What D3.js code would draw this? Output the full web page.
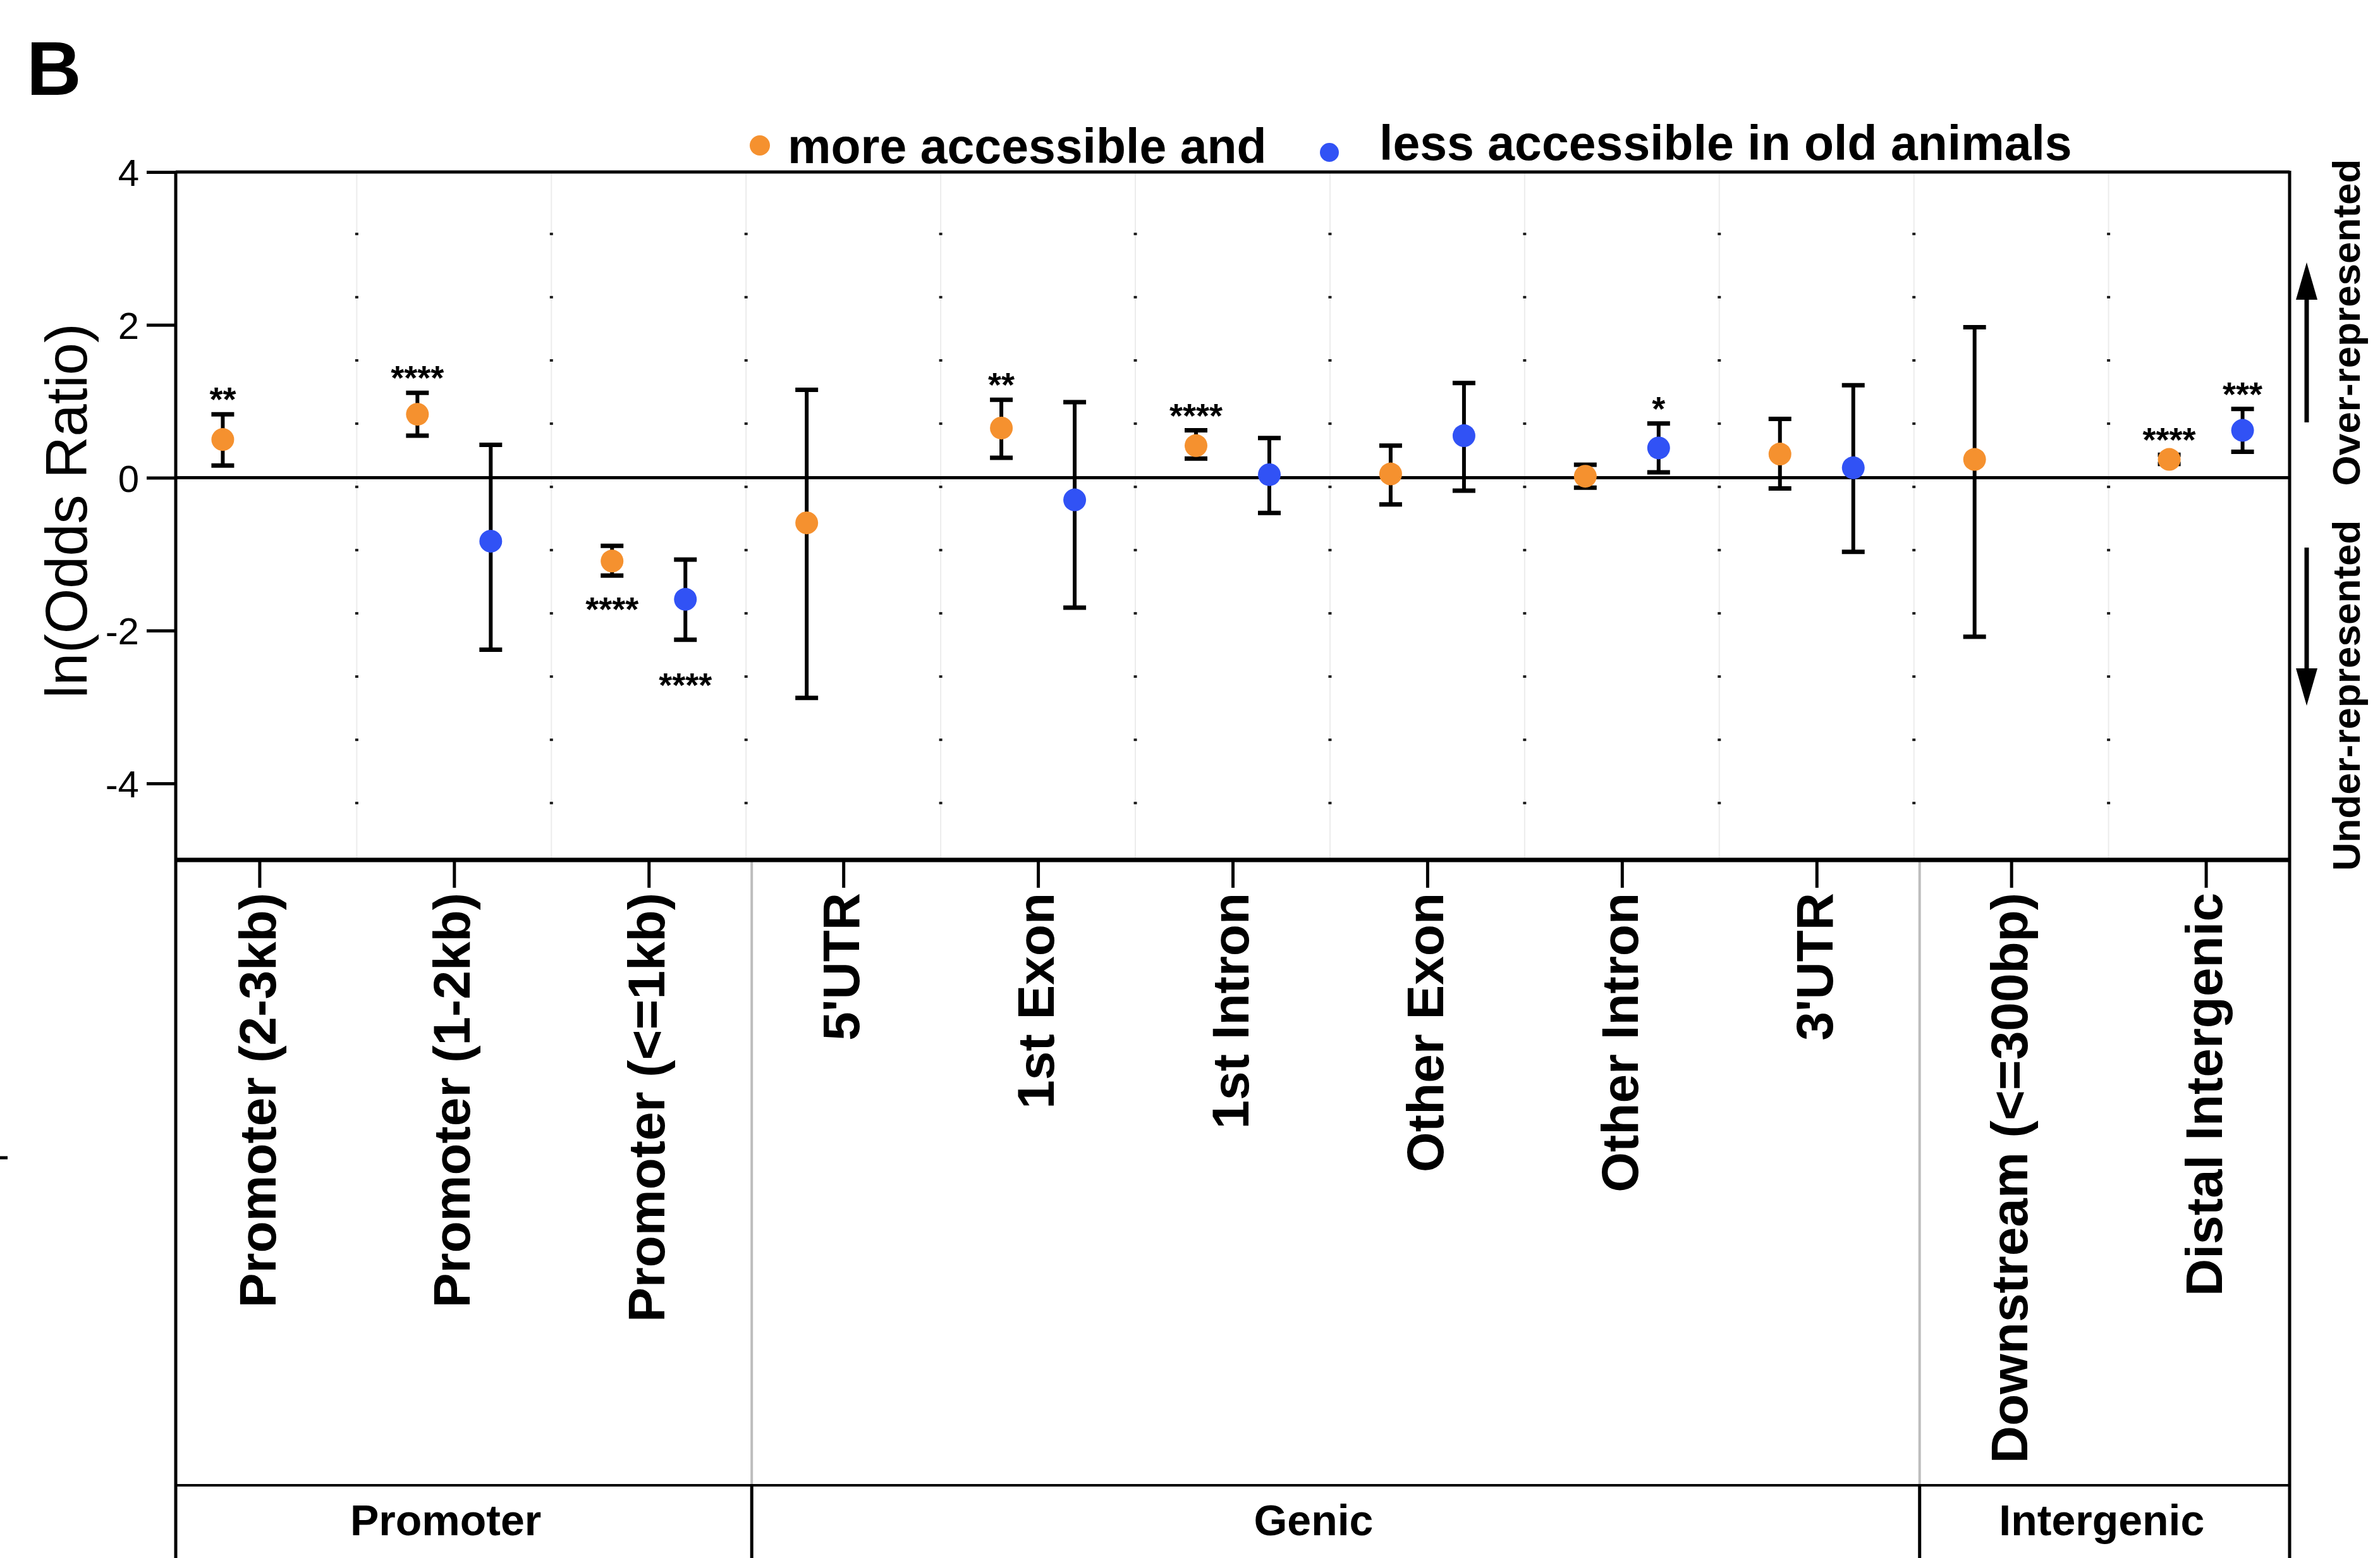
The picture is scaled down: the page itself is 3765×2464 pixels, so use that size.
<!DOCTYPE html>
<html>
<head>
<meta charset="utf-8">
<script src="https://cdn.jsdelivr.net/npm/d3@7"></script>
<style>
body { margin: 0; background: #fff; }
text { font-family: "Liberation Sans", Arial, Helvetica, sans-serif; }
</style>
</head>
<body>
<script>
const categories = ["Promoter (2-3kb)", "Promoter (1-2kb)", "Promoter (<=1kb)", "5'UTR", "1st Exon", "1st Intron",
    "Other Exon", "Other Intron", "3'UTR", "Downstream (<=300bp)", "Distal Intergenic"];

// orange: more accessible in old animals
const moreOR = [0.50, 0.83, -1.09, -0.59, 0.65, 0.42, 0.05, 0.02, 0.31, 0.24, 0.24];
const moreLow = [0.16, 0.55, -1.28, -2.88, 0.26, 0.25, -0.35, -0.13, -0.14, -2.08, 0.18];
const moreHigh = [0.83, 1.11, -0.89, 1.15, 1.02, 0.62, 0.42, 0.17, 0.77, 1.97, 0.30];
const moreStars = ["**", "****", "****", "", "**", "****", "", "", "", "", "****"];

// blue: less accessible in old animals
const lessOR = [null, -0.83, -1.59, null, -0.29, 0.04, 0.55, 0.39, 0.13, null, 0.62];
const lessLow = [null, -2.25, -2.12, null, -1.70, -0.46, -0.17, 0.07, -0.97, null, 0.34];
const lessHigh = [null, 0.43, -1.07, null, 0.99, 0.52, 1.24, 0.71, 1.21, null, 0.90];
const lessStars = ["", "", "****", "", "", "", "", "*", "", "", "***"];

const yTicks = [4, 2, 0, -2, -4];
const groups = [
    {name: "Promoter", from: 0, to: 2},
    {name: "Genic", from: 3, to: 8},
    {name: "Intergenic", from: 9, to: 10}
];

const W = 3765, H = 2464;
const plotLeft = 278, plotRight = 3622, plotTop = 272, plotBottom = 1360;
const groupTop = 2349;
const orange = "#F5912F";
const blue = "#3152F5";
const groupLabelDx = [-24, -26, 0];

const svg = d3.select("body").append("svg")
.attr("width", W)
.attr("height", H);

const x = d3.scalePoint()
.domain(categories)
.range([plotLeft, plotRight])
.padding(0.43);

const y = d3.scaleLinear()
.domain([-5, 4])
.range([plotBottom, plotTop]);

const step = x.step();
const mid = i => x(categories[i]) + step / 2;

// faint grid lines between categories, with small dots
for (let i = 0; i < categories.length - 1; i++) {
    svg.append("line")
    .attr("x1", mid(i)).attr("x2", mid(i))
    .attr("y1", plotTop).attr("y2", plotBottom)
    .attr("stroke", "#ececec")
    .attr("stroke-width", 2);
    svg.append("line")
    .attr("x1", mid(i)).attr("x2", mid(i))
    .attr("y1", plotTop).attr("y2", plotBottom)
    .attr("stroke", "#222")
    .attr("stroke-width", 5)
    .attr("stroke-dasharray", "4,96")
    .attr("stroke-dashoffset", 4);
}

// gray separators between groups in the label area, black in group row
groups.slice(0, -1).forEach(g => {
    const sx = mid(g.to) + 9;
    svg.append("line")
    .attr("x1", sx).attr("x2", sx)
    .attr("y1", plotBottom).attr("y2", groupTop)
    .attr("stroke", "#bdbdbd")
    .attr("stroke-width", 4);
    svg.append("line")
    .attr("x1", sx).attr("x2", sx)
    .attr("y1", groupTop).attr("y2", H)
    .attr("stroke", "#000")
    .attr("stroke-width", 5);
});

// frame
svg.append("line")
.attr("x1", plotLeft).attr("x2", plotRight)
.attr("y1", plotTop).attr("y2", plotTop)
.attr("stroke", "#000").attr("stroke-width", 5);
svg.append("line")
.attr("x1", plotRight).attr("x2", plotRight)
.attr("y1", plotTop - 2).attr("y2", H)
.attr("stroke", "#000").attr("stroke-width", 5);
svg.append("line")
.attr("x1", plotLeft).attr("x2", plotLeft)
.attr("y1", plotTop - 2).attr("y2", H)
.attr("stroke", "#000").attr("stroke-width", 5);
svg.append("line")
.attr("x1", plotLeft).attr("x2", plotRight)
.attr("y1", y(0)).attr("y2", y(0))
.attr("stroke", "#000").attr("stroke-width", 5);
svg.append("line")
.attr("x1", plotLeft).attr("x2", plotRight)
.attr("y1", groupTop).attr("y2", groupTop)
.attr("stroke", "#000").attr("stroke-width", 4);

// y axis
const yAxis = svg.append("g")
.attr("transform", "translate(" + plotLeft + ",0)")
.call(d3.axisLeft(y).tickValues(yTicks).tickSize(46).tickPadding(12).tickFormat(d => String(d)));
yAxis.select(".domain").remove();
yAxis.selectAll(".tick line").attr("stroke", "#000").attr("stroke-width", 5);
yAxis.selectAll(".tick text")
.attr("fill", "#000")
.style("font-size", "60px")
.attr("dy", "0.36em");

// x axis with rotated labels
const xAxis = svg.append("g")
.attr("transform", "translate(0," + plotBottom + ")")
.call(d3.axisBottom(x).tickSize(44).tickPadding(8));
xAxis.select(".domain")
.attr("d", "M" + plotLeft + ",0H" + plotRight)
.attr("stroke", "#000")
.attr("stroke-width", 7);
xAxis.selectAll(".tick line").attr("stroke", "#000").attr("stroke-width", 5);
xAxis.selectAll(".tick text")
.attr("fill", "#000")
.attr("transform", "rotate(-90)")
.attr("text-anchor", "end")
.attr("x", -52)
.attr("y", 0)
.attr("dy", "0.3em")
.style("font-size", "82px")
.style("font-weight", "bold");

// group labels
svg.selectAll(".group-label")
.data(groups)
.enter()
.append("text")
.attr("x", (g, i) => ((g.from === 0 ? plotLeft : mid(g.from - 1)) + (g.to === categories.length - 1 ? plotRight : mid(g.to))) / 2 + groupLabelDx[i])
.attr("y", 2428)
.attr("text-anchor", "middle")
.style("font-size", "68px")
.style("font-weight", "bold")
.text(g => g.name);

// error bars + points
const offset = 58;
const cap = 18;
const series = [
    {or: moreOR, lo: moreLow, hi: moreHigh, stars: moreStars, color: orange, dx: -offset, below: 42},
    {or: lessOR, lo: lessLow, hi: lessHigh, stars: lessStars, color: blue, dx: offset, below: 60}
];

series.forEach(s => {
    const pts = categories.map((c, i) => ({c: c, v: s.or[i], lo: s.lo[i], hi: s.hi[i], star: s.stars[i]}))
    .filter(d => d.v !== null);
    const cx = d => x(d.c) + s.dx;

    svg.selectAll(null)
    .data(pts)
    .enter()
    .append("line")
    .attr("x1", cx).attr("x2", cx)
    .attr("y1", d => y(d.hi)).attr("y2", d => y(d.lo))
    .attr("stroke", "#000").attr("stroke-width", 6);

    ["hi", "lo"].forEach(k => {
        svg.selectAll(null)
        .data(pts)
        .enter()
        .append("line")
        .attr("x1", d => cx(d) - cap).attr("x2", d => cx(d) + cap)
        .attr("y1", d => y(d[k])).attr("y2", d => y(d[k]))
        .attr("stroke", "#000").attr("stroke-width", 7);
    });

    svg.selectAll(null)
    .data(pts)
    .enter()
    .append("circle")
    .attr("cx", cx)
    .attr("cy", d => y(d.v))
    .attr("r", 18)
    .attr("fill", s.color);

    // star centre sits ~35px above the bar top (or below the bar bottom); baseline is ~30px under the centre
    svg.selectAll(null)
    .data(pts.filter(d => d.star))
    .enter()
    .append("text")
    .attr("x", cx)
    .attr("y", d => d.v >= 0 ? y(d.hi) - 35 + 30 : y(d.lo) + s.below + 30)
    .attr("text-anchor", "middle")
    .style("font-size", "54px")
    .style("font-weight", "bold")
    .text(d => d.star);
});

// legend
svg.append("circle").attr("cx", 1202).attr("cy", 230).attr("r", 16).attr("fill", orange);
svg.append("text")
.attr("x", 1246).attr("y", 258)
.style("font-size", "77px").style("font-weight", "bold")
.text("more accessible and");
svg.append("circle").attr("cx", 2103).attr("cy", 241).attr("r", 15).attr("fill", blue);
svg.append("text")
.attr("x", 2182).attr("y", 253)
.style("font-size", "77px").style("font-weight", "bold")
.text("less accessible in old animals");

// y label
svg.append("text")
.attr("transform", "translate(137,808) rotate(-90)")
.attr("text-anchor", "middle")
.style("font-size", "92px")
.text("ln(Odds Ratio)");

// panel letter
svg.append("text")
.attr("x", 42).attr("y", 150)
.style("font-size", "120px").style("font-weight", "bold")
.text("B");

// right side annotations and arrows
svg.append("text")
.attr("transform", "translate(3733,510) rotate(-90)")
.attr("text-anchor", "middle")
.style("font-size", "62px").style("font-weight", "bold")
.text("Over-represented");
svg.append("text")
.attr("transform", "translate(3733,1100) rotate(-90)")
.attr("text-anchor", "middle")
.style("font-size", "62px").style("font-weight", "bold")
.text("Under-represented");

const ax = 3649;
svg.append("line").attr("x1", ax).attr("x2", ax).attr("y1", 668).attr("y2", 470)
.attr("stroke", "#000").attr("stroke-width", 7);
svg.append("path").attr("d", `M${ax},415L${ax - 17},474L${ax + 17},474Z`).attr("fill", "#000");
svg.append("line").attr("x1", ax).attr("x2", ax).attr("y1", 866).attr("y2", 1060)
.attr("stroke", "#000").attr("stroke-width", 7);
svg.append("path").attr("d", `M${ax},1116L${ax - 17},1057L${ax + 17},1057Z`).attr("fill", "#000");

// small stray mark on the left edge
svg.append("line").attr("x1", 0).attr("x2", 12).attr("y1", 1831).attr("y2", 1831)
.attr("stroke", "#000").attr("stroke-width", 5);
</script>
</body>
</html>
